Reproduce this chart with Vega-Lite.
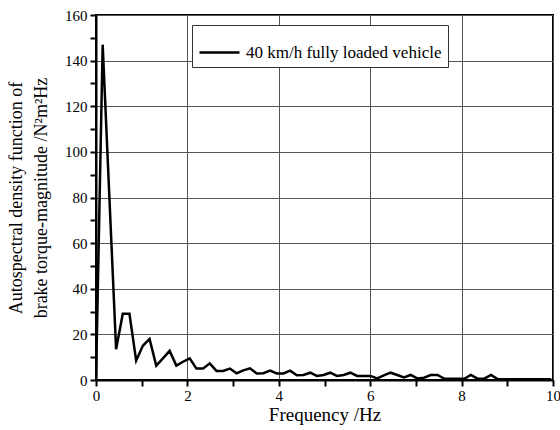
{
  "$schema": "https://vega.github.io/schema/vega-lite/v6.json",
  "autosize": {"type": "none"},
  "padding": {"left": 96, "top": 15, "right": 7, "bottom": 50},
  "width": 457,
  "height": 365,
  "background": "white",
  "config": {
    "view": {"stroke": "black", "strokeWidth": 2},
    "font": "Liberation Serif"
  },
  "data": {
    "values": [
      {"f": 0.0, "v": 0, "s": "40 km/h fully loaded vehicle"},
      {"f": 0.146, "v": 147, "s": "40 km/h fully loaded vehicle"},
      {"f": 0.293, "v": 80, "s": "40 km/h fully loaded vehicle"},
      {"f": 0.44, "v": 13.5, "s": "40 km/h fully loaded vehicle"},
      {"f": 0.586, "v": 29, "s": "40 km/h fully loaded vehicle"},
      {"f": 0.732, "v": 29, "s": "40 km/h fully loaded vehicle"},
      {"f": 0.879, "v": 8.5, "s": "40 km/h fully loaded vehicle"},
      {"f": 1.025, "v": 15, "s": "40 km/h fully loaded vehicle"},
      {"f": 1.172, "v": 18, "s": "40 km/h fully loaded vehicle"},
      {"f": 1.318, "v": 6.3, "s": "40 km/h fully loaded vehicle"},
      {"f": 1.465, "v": 9.5, "s": "40 km/h fully loaded vehicle"},
      {"f": 1.611, "v": 12.8, "s": "40 km/h fully loaded vehicle"},
      {"f": 1.758, "v": 6.3, "s": "40 km/h fully loaded vehicle"},
      {"f": 1.904, "v": 8, "s": "40 km/h fully loaded vehicle"},
      {"f": 2.051, "v": 9.5, "s": "40 km/h fully loaded vehicle"},
      {"f": 2.197, "v": 5, "s": "40 km/h fully loaded vehicle"},
      {"f": 2.344, "v": 5, "s": "40 km/h fully loaded vehicle"},
      {"f": 2.49, "v": 7.3, "s": "40 km/h fully loaded vehicle"},
      {"f": 2.637, "v": 4, "s": "40 km/h fully loaded vehicle"},
      {"f": 2.783, "v": 4, "s": "40 km/h fully loaded vehicle"},
      {"f": 2.93, "v": 5, "s": "40 km/h fully loaded vehicle"},
      {"f": 3.076, "v": 2.9, "s": "40 km/h fully loaded vehicle"},
      {"f": 3.223, "v": 4.2, "s": "40 km/h fully loaded vehicle"},
      {"f": 3.369, "v": 5.1, "s": "40 km/h fully loaded vehicle"},
      {"f": 3.516, "v": 2.9, "s": "40 km/h fully loaded vehicle"},
      {"f": 3.662, "v": 3, "s": "40 km/h fully loaded vehicle"},
      {"f": 3.809, "v": 4.1, "s": "40 km/h fully loaded vehicle"},
      {"f": 3.955, "v": 2.9, "s": "40 km/h fully loaded vehicle"},
      {"f": 4.102, "v": 2.9, "s": "40 km/h fully loaded vehicle"},
      {"f": 4.248, "v": 4.1, "s": "40 km/h fully loaded vehicle"},
      {"f": 4.395, "v": 2.1, "s": "40 km/h fully loaded vehicle"},
      {"f": 4.541, "v": 2.2, "s": "40 km/h fully loaded vehicle"},
      {"f": 4.688, "v": 3.2, "s": "40 km/h fully loaded vehicle"},
      {"f": 4.834, "v": 1.8, "s": "40 km/h fully loaded vehicle"},
      {"f": 4.98, "v": 2.2, "s": "40 km/h fully loaded vehicle"},
      {"f": 5.127, "v": 3.2, "s": "40 km/h fully loaded vehicle"},
      {"f": 5.273, "v": 1.8, "s": "40 km/h fully loaded vehicle"},
      {"f": 5.42, "v": 2.2, "s": "40 km/h fully loaded vehicle"},
      {"f": 5.566, "v": 3.2, "s": "40 km/h fully loaded vehicle"},
      {"f": 5.713, "v": 1.8, "s": "40 km/h fully loaded vehicle"},
      {"f": 5.859, "v": 1.8, "s": "40 km/h fully loaded vehicle"},
      {"f": 6.006, "v": 1.8, "s": "40 km/h fully loaded vehicle"},
      {"f": 6.152, "v": 0.7, "s": "40 km/h fully loaded vehicle"},
      {"f": 6.299, "v": 2, "s": "40 km/h fully loaded vehicle"},
      {"f": 6.445, "v": 3.2, "s": "40 km/h fully loaded vehicle"},
      {"f": 6.592, "v": 2.2, "s": "40 km/h fully loaded vehicle"},
      {"f": 6.738, "v": 1.1, "s": "40 km/h fully loaded vehicle"},
      {"f": 6.885, "v": 2.2, "s": "40 km/h fully loaded vehicle"},
      {"f": 7.031, "v": 0.7, "s": "40 km/h fully loaded vehicle"},
      {"f": 7.178, "v": 1, "s": "40 km/h fully loaded vehicle"},
      {"f": 7.324, "v": 2.2, "s": "40 km/h fully loaded vehicle"},
      {"f": 7.471, "v": 2.2, "s": "40 km/h fully loaded vehicle"},
      {"f": 7.617, "v": 0.6, "s": "40 km/h fully loaded vehicle"},
      {"f": 7.764, "v": 0.5, "s": "40 km/h fully loaded vehicle"},
      {"f": 7.91, "v": 0.5, "s": "40 km/h fully loaded vehicle"},
      {"f": 8.057, "v": 0.5, "s": "40 km/h fully loaded vehicle"},
      {"f": 8.203, "v": 2.2, "s": "40 km/h fully loaded vehicle"},
      {"f": 8.35, "v": 0.6, "s": "40 km/h fully loaded vehicle"},
      {"f": 8.496, "v": 0.6, "s": "40 km/h fully loaded vehicle"},
      {"f": 8.643, "v": 2.2, "s": "40 km/h fully loaded vehicle"},
      {"f": 8.789, "v": 0.4, "s": "40 km/h fully loaded vehicle"},
      {"f": 8.936, "v": 0.3, "s": "40 km/h fully loaded vehicle"},
      {"f": 9.082, "v": 0.3, "s": "40 km/h fully loaded vehicle"},
      {"f": 9.229, "v": 0.3, "s": "40 km/h fully loaded vehicle"},
      {"f": 9.375, "v": 0.3, "s": "40 km/h fully loaded vehicle"},
      {"f": 9.521, "v": 0.3, "s": "40 km/h fully loaded vehicle"},
      {"f": 9.668, "v": 0.3, "s": "40 km/h fully loaded vehicle"},
      {"f": 9.814, "v": 0.3, "s": "40 km/h fully loaded vehicle"},
      {"f": 9.961, "v": 0.3, "s": "40 km/h fully loaded vehicle"}
    ]
  },
  "mark": {"type": "line", "strokeWidth": 2.5, "clip": true},
  "encoding": {
    "x": {
      "field": "f", "type": "quantitative",
      "scale": {"domain": [0, 10], "nice": false, "zero": false},
      "axis": {
        "orient": "bottom",
        "values": [0, 1, 2, 3, 4, 5, 6, 7, 8, 9, 10],
        "labelExpr": "datum.value % 2 == 0 ? datum.label : ''",
        "title": "Frequency /Hz",
        "titleFont": "Liberation Serif", "titleFontSize": 19, "titleFontWeight": "normal", "titleColor": "black",
        "titlePadding": 2,
        "labelFont": "Liberation Serif", "labelFontSize": 15, "labelColor": "black",
        "labelPadding": 2, "labelFlush": false, "labelOverlap": false,
        "ticks": true, "tickColor": "black", "tickWidth": 2, "tickSize": 6,
        "domainColor": "black", "domainWidth": 2,
        "grid": true, "gridColor": "#555", "gridWidth": 1,
        "gridOpacity": {"condition": {"test": "datum.value % 2 != 0", "value": 0}, "value": 1}
      }
    },
    "y": {
      "field": "v", "type": "quantitative",
      "scale": {"domain": [0, 160], "nice": false},
      "axis": {
        "orient": "left",
        "values": [0, 10, 20, 30, 40, 50, 60, 70, 80, 90, 100, 110, 120, 130, 140, 150, 160],
        "labelExpr": "datum.value % 20 == 0 ? datum.label : ''",
        "title": ["Autospectral density function of", "brake torque-magnitude /N²m²Hz"],
        "titleFont": "Liberation Serif", "titleFontSize": 18, "titleFontWeight": "normal", "titleColor": "black",
        "titleLineHeight": 25, "titlePadding": 14,
        "labelFont": "Liberation Serif", "labelFontSize": 15, "labelColor": "black",
        "labelPadding": 3, "labelFlush": false, "labelOverlap": false,
        "ticks": true, "tickColor": "black", "tickWidth": 2, "tickSize": 6,
        "domainColor": "black", "domainWidth": 2,
        "grid": true, "gridColor": "#555", "gridWidth": 1,
        "gridOpacity": {"condition": {"test": "datum.value % 20 != 0", "value": 0}, "value": 1}
      }
    },
    "color": {
      "field": "s", "type": "nominal",
      "scale": {"range": ["black"]},
      "legend": {
        "orient": "none", "legendX": 96, "legendY": 10,
        "title": null,
        "symbolType": "stroke", "symbolSize": 1600, "symbolStrokeWidth": 2.5, "symbolStrokeColor": "black",
        "labelFont": "Liberation Serif", "labelFontSize": 17, "labelColor": "black", "labelOffset": 5,
        "labelLimit": 400,
        "padding": 6, "strokeColor": "#333", "fillColor": "white"
      }
    }
  }
}
